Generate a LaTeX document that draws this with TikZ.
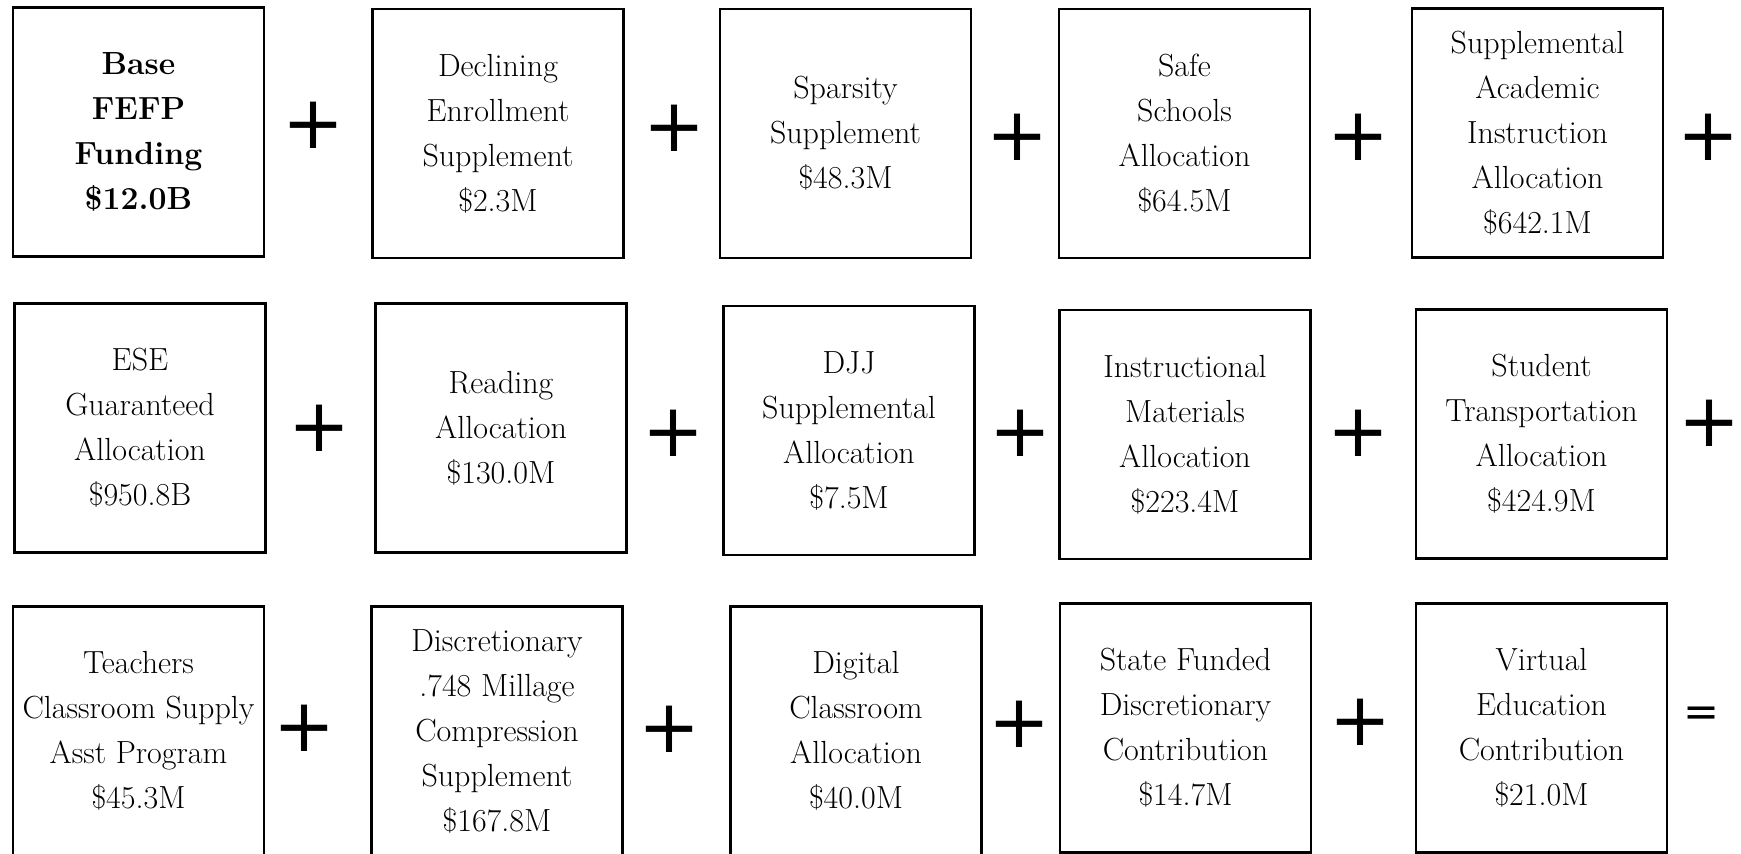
\documentclass[tikz,border=0pt]{standalone}
\usepackage{fontspec}
\usepackage{tikz}
\newfontfamily\signfont{DejaVu Sans}

\tikzset{
  fund/.style={draw, line width=2.2pt, minimum width=251pt, minimum height=249pt,
    inner sep=0pt, align=center, font=\fontsize{32}{45}\selectfont},
  basefund/.style={fund, font=\fontsize{32}{45}\selectfont\bfseries},
  op/.style={inner sep=0pt, font=\signfont\fontsize{74}{74}\selectfont},
  eq/.style={inner sep=0pt, font=\signfont\fontsize{43}{43}\selectfont}
}

\begin{document}
\begin{tikzpicture}[x=1pt, y=-1pt]
  \useasboundingbox (0,0) rectangle (1741,854);

  \node [basefund] (base) at (138.5, 132) {Base\\FEFP\\Funding\\\$12.0B};
  \node [fund] (decl) at (498, 133.5) {Declining\\Enrollment\\Supplement\\\$2.3M};
  \node [fund] (spar) at (845.5, 133.5) {Sparsity\\Supplement\\\$48.3M};
  \node [fund] (safe) at (1184.5, 133.5) {Safe\\Schools\\Allocation\\\$64.5M};
  \node [fund] (sai) at (1537.5, 133) {Supplemental\\Academic\\Instruction\\Allocation\\\$642.1M};
  \node [op] (p1) at (313.5, 125.5) {+};
  \node [op] (p2) at (674, 128) {+};
  \node [op] (p3) at (1017, 137) {+};
  \node [op] (p4) at (1358, 137) {+};
  \node [op] (p5) at (1708, 137) {+};

  \node [fund] (ese) at (140, 428) {ESE\\Guaranteed\\Allocation\\\$950.8B};
  \node [fund] (read) at (501, 428) {Reading\\Allocation\\\$130.0M};
  \node [fund] (djj) at (849, 430.5) {DJJ\\Supplemental\\Allocation\\\$7.5M};
  \node [fund] (inst) at (1185, 434.5) {Instructional\\Materials\\Allocation\\\$223.4M};
  \node [fund] (trans) at (1541.5, 434) {Student\\Transportation\\Allocation\\\$424.9M};
  \node [op] (p6) at (319, 428) {+};
  \node [op] (p7) at (673, 433) {+};
  \node [op] (p8) at (1020, 433) {+};
  \node [op] (p9) at (1358, 433) {+};
  \node [op] (p10) at (1709, 423) {+};

  \node [fund] (teach) at (138.5, 731) {Teachers\\Classroom Supply\\Asst Program\\\$45.3M};
  \node [fund] (mill) at (497, 731) {Discretionary\\.748 Millage\\Compression\\Supplement\\\$167.8M};
  \node [fund] (digi) at (856, 731) {Digital\\Classroom\\Allocation\\\$40.0M};
  \node [fund] (disc) at (1185.5, 728) {State Funded\\Discretionary\\Contribution\\\$14.7M};
  \node [fund] (virt) at (1541.5, 728) {Virtual\\Education\\Contribution\\\$21.0M};
  \node [op] (p11) at (304, 728) {+};
  \node [op] (p12) at (669, 729) {+};
  \node [op] (p13) at (1019, 724) {+};
  \node [op] (p14) at (1360, 722) {+};
  \node [eq] (tot) at (1701.5, 716.5) {=};
\end{tikzpicture}
\end{document}
